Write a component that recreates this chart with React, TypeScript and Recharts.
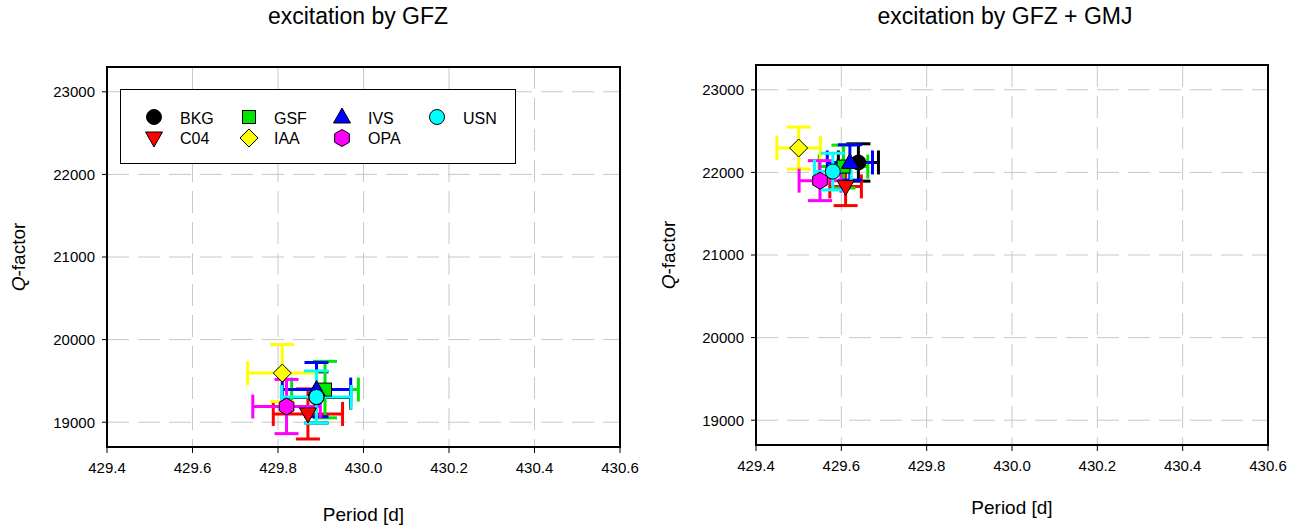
import React from "react";
import {
  ScatterChart,
  Scatter,
  XAxis,
  YAxis,
  CartesianGrid,
  ErrorBar,
  Legend,
  ReferenceArea,
  Label,
} from "recharts";

const centers = ["BKG", "C04", "GSF", "IAA", "IVS", "OPA", "USN"];
const centerColors = ["#000000", "#ff0000", "#00e600", "#ffff00", "#0000ff", "#ff00ff", "#00ffff"];
const centerShapes = ["circle", "triangleDown", "square", "diamond", "triangle", "hexagon", "circle"];

const periodTicks = [429.4, 429.6, 429.8, 430.0, 430.2, 430.4, 430.6];
const qTicks = [19000, 20000, 21000, 22000, 23000];

// excitation by GFZ
const gfzPeriod = [429.89, 429.87, 429.91, 429.81, 429.89, 429.82, 429.89];
const gfzPeriodErr = [0.08, 0.081, 0.078, 0.081, 0.08, 0.079, 0.081];
const gfzQ = [19300, 19100, 19395, 19595, 19395, 19190, 19305];
const gfzQErr = [310, 303, 342, 345, 328, 328, 316];

// excitation by GFZ + GMJ
const gmjPeriod = [429.64, 429.61, 429.605, 429.5, 429.62, 429.55, 429.58];
const gmjPeriodErr = [0.047, 0.037, 0.057, 0.051, 0.053, 0.049, 0.043];
const gmjQ = [22120, 21830, 22070, 22295, 22120, 21900, 22010];
const gmjQErr = [226, 232, 260, 254, 214, 242, 222];

const FONT = "'Liberation Sans', Arial, sans-serif";

function renderMarker(kind: string, cx: number, cy: number, fill: string) {
  const s = { fill, stroke: "#000", strokeWidth: 1 };
  switch (kind) {
    case "circle":
      return <circle cx={cx} cy={cy} r={7.5} {...s} />;
    case "square":
      return <rect x={cx - 6.5} y={cy - 6.5} width={13} height={13} {...s} />;
    case "diamond":
      return <polygon points={`${cx},${cy - 9} ${cx + 9},${cy} ${cx},${cy + 9} ${cx - 9},${cy}`} {...s} />;
    case "triangle":
      return <polygon points={`${cx},${cy - 9} ${cx + 8.5},${cy + 6} ${cx - 8.5},${cy + 6}`} {...s} />;
    case "triangleDown":
      return <polygon points={`${cx - 8.5},${cy - 6} ${cx + 8.5},${cy - 6} ${cx},${cy + 9}`} {...s} />;
    case "hexagon": {
      const pts = [0, 1, 2, 3, 4, 5]
        .map((k) => {
          const a = (Math.PI / 180) * (90 + 60 * k);
          return `${cx + 8.5 * Math.cos(a)},${cy - 8.5 * Math.sin(a)}`;
        })
        .join(" ");
      return <polygon points={pts} {...s} />;
    }
    default:
      return <circle cx={cx} cy={cy} r={7} {...s} />;
  }
}

function LegendBox() {
  const colX = [34, 129, 222, 317];
  const textX = [60, 154, 248, 343];
  const rowY = [28, 49];
  const rowText = [34.5, 54.5];
  return (
    <svg width={397} height={76} style={{ display: "block" }}>
      <rect x={0.5} y={0.5} width={395} height={74} fill="#fff" stroke="#000" strokeWidth={1} />
      {centers.map((name, i) => {
        const c = Math.floor(i / 2);
        const r = i % 2;
        return (
          <g key={name}>
            {renderMarker(centerShapes[i], colX[c], rowY[r], centerColors[i])}
            <text x={textX[c]} y={rowText[r]} fontSize={16} fontFamily={FONT} fill="#000">
              {name}
            </text>
          </g>
        );
      })}
    </svg>
  );
}

type PanelProps = {
  title: string;
  period: number[];
  periodErr: number[];
  q: number[];
  qErr: number[];
  left: number;
  width: number;
  plotLeft: number;
  plotRight: number;
  plotTop: number;
  plotBottom: number;
  titleCenter: number;
  xLabelBaseline: number;
  showLegend: boolean;
};

function Panel(p: PanelProps) {
  const height = 529;
  const plotCenterX = (p.plotLeft + p.plotRight) / 2;
  const plotCenterY = (p.plotTop + p.plotBottom) / 2;
  return (
    <div style={{ position: "absolute", left: p.left, top: 0, width: p.width, height }}>
      <div
        style={{
          position: "absolute",
          left: p.titleCenter - 250,
          width: 500,
          top: 5,
          fontFamily: FONT,
          fontSize: 23,
          lineHeight: "23px",
          textAlign: "center",
          whiteSpace: "nowrap",
          color: "#000",
          zIndex: 2,
        }}
      >
        {p.title}
      </div>
      <ScatterChart
        width={p.width}
        height={height}
        margin={{ top: p.plotTop, right: p.width - p.plotRight, bottom: height - p.plotBottom - 30, left: 0 }}
        style={{ fontFamily: FONT }}
      >
        <CartesianGrid stroke="#c8c8c8" strokeDasharray="22 9" />
        <XAxis
          type="number"
          dataKey="x"
          domain={[429.4, 430.6]}
          ticks={periodTicks}
          interval={0}
          allowDataOverflow
          tickFormatter={(v: number) => v.toFixed(1)}
          height={30}
          tickSize={6}
          tickMargin={9}
          axisLine={{ stroke: "#000", strokeWidth: 2 }}
          tickLine={{ stroke: "#000" }}
          tick={{ fill: "#000", fontSize: 15 }}
        >
          <Label
            content={() => (
              <text x={plotCenterX} y={p.xLabelBaseline} textAnchor="middle" fontSize={19} fill="#000" fontFamily={FONT}>
                Period [d]
              </text>
            )}
          />
        </XAxis>
        <YAxis
          type="number"
          dataKey="y"
          domain={[18700, 23300]}
          ticks={qTicks}
          interval={0}
          allowDataOverflow
          width={p.plotLeft}
          tickSize={5}
          tickMargin={7}
          axisLine={{ stroke: "#000", strokeWidth: 2 }}
          tickLine={{ stroke: "#000" }}
          tick={{ fill: "#000", fontSize: 15 }}
        >
          <Label
            content={() => (
              <text
                x={25}
                y={plotCenterY}
                transform={`rotate(-90 25 ${plotCenterY})`}
                textAnchor="middle"
                fontSize={19}
                fill="#000"
                fontFamily={FONT}
              >
                <tspan fontStyle="italic">Q</tspan>-factor
              </text>
            )}
          />
        </YAxis>
        <ReferenceArea
          x1={429.4}
          x2={430.6}
          y1={18700}
          y2={23300}
          fill="none"
          fillOpacity={0}
          stroke="#000"
          strokeWidth={2}
          ifOverflow="visible"
        />
        {centers.map((name, i) => (
          <Scatter
            key={name}
            name={name}
            data={[{ x: p.period[i], y: p.q[i], ex: p.periodErr[i], ey: p.qErr[i] }]}
            fill={centerColors[i]}
            isAnimationActive={false}
            shape={(sp: any) => renderMarker(centerShapes[i], sp.cx, sp.cy, centerColors[i])}
          >
            <ErrorBar dataKey="ex" direction="x" width={12} stroke={centerColors[i]} strokeWidth={3} />
            <ErrorBar dataKey="ey" direction="y" width={12} stroke={centerColors[i]} strokeWidth={3} />
          </Scatter>
        ))}
        {p.showLegend && (
          <Legend
            layout="vertical"
            align="center"
            verticalAlign="middle"
            wrapperStyle={{ left: 120, top: 89, width: 397, height: 76 }}
            content={() => <LegendBox />}
          />
        )}
      </ScatterChart>
    </div>
  );
}

export default function App() {
  return (
    <div style={{ position: "absolute", left: 0, top: 0, width: 1299, height: 529, background: "#fff" }}>
      <Panel
        title="excitation by GFZ"
        period={gfzPeriod}
        periodErr={gfzPeriodErr}
        q={gfzQ}
        qErr={gfzQErr}
        left={0}
        width={650}
        plotLeft={107}
        plotRight={620}
        plotTop={67}
        plotBottom={447}
        titleCenter={358}
        xLabelBaseline={521}
        showLegend={true}
      />
      <Panel
        title="excitation by GFZ + GMJ"
        period={gmjPeriod}
        periodErr={gmjPeriodErr}
        q={gmjQ}
        qErr={gmjQErr}
        left={650}
        width={649}
        plotLeft={106}
        plotRight={618}
        plotTop={65}
        plotBottom={445}
        titleCenter={355}
        xLabelBaseline={514}
        showLegend={false}
      />
    </div>
  );
}
